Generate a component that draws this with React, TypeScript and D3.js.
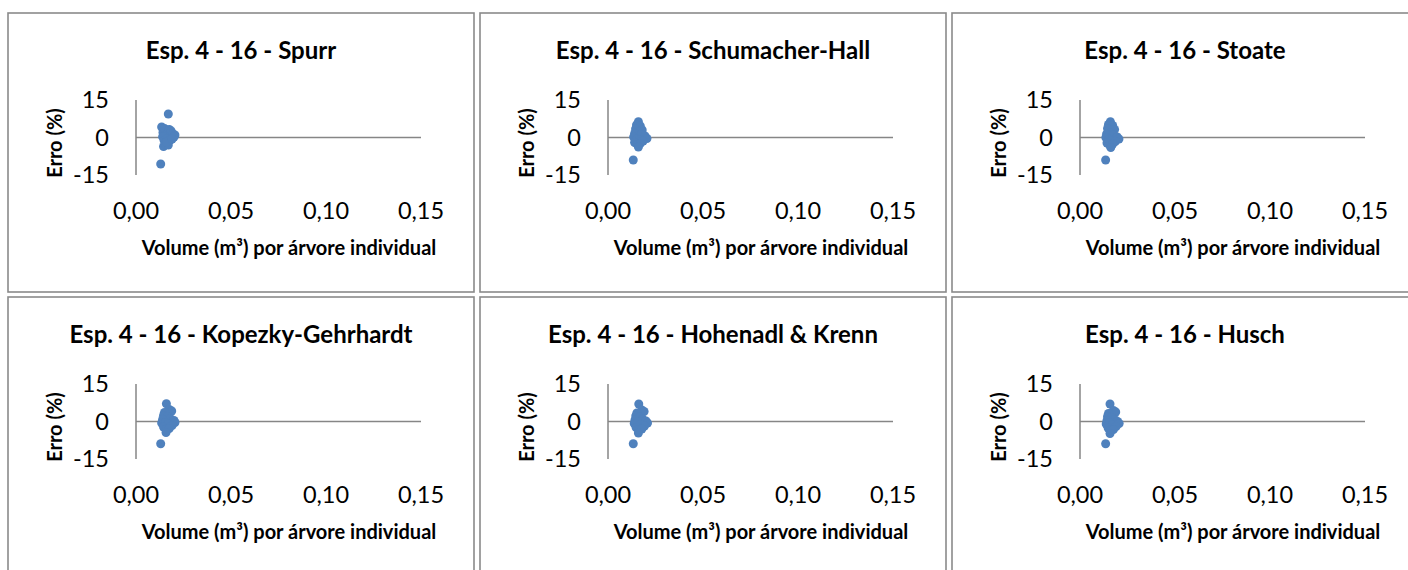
import React, { useEffect, useRef } from 'react';
import * as d3 from 'd3';

// chart titles, one per panel (row by row)
const titles = [
    'Esp. 4 - 16 - Spurr',
    'Esp. 4 - 16 - Schumacher-Hall',
    'Esp. 4 - 16 - Stoate',
    'Esp. 4 - 16 - Kopezky-Gehrhardt',
    'Esp. 4 - 16 - Hohenadl & Krenn',
    'Esp. 4 - 16 - Husch',
];

const xTicks = [0, 0.05, 0.1, 0.15];
const yTicks = [15, 0, -15];
const xLabel = 'Volume (m³) por árvore individual';
const yLabel = 'Erro (%)';

// [volume, erro] pairs
const spurr = [
    [0.0170, 9.4], [0.0130, -10.6], [0.0135, 4.2], [0.0142, 2.0], [0.0150, 3.6],
    [0.0160, 1.2], [0.0175, 3.2], [0.0185, 2.6], [0.0195, 1.4], [0.0205, 1.0],
    [0.0200, 0.2], [0.0140, 0.3], [0.0148, -1.2], [0.0165, -0.5], [0.0180, -1.0],
    [0.0145, -3.6], [0.0155, -2.6], [0.0170, -3.0], [0.0160, -1.8], [0.0190, -0.6],
];
const schumacherHall = [
    [0.0160, 6.3], [0.0150, 5.0], [0.0170, 4.6], [0.0145, 3.4], [0.0180, 3.0],
    [0.0160, 2.2], [0.0140, 1.6], [0.0175, 1.2], [0.0195, 0.6], [0.0205, -0.4],
    [0.0135, 0.2], [0.0150, -0.6], [0.0165, -1.0], [0.0185, -1.4], [0.0140, -2.0],
    [0.0155, -2.8], [0.0170, -2.4], [0.0160, -3.8], [0.0133, -9.0],
];
const stoate = [
    [0.0160, 6.3], [0.0150, 5.2], [0.0172, 4.8], [0.0145, 3.6], [0.0182, 3.2],
    [0.0158, 2.0], [0.0140, 1.4], [0.0176, 1.0], [0.0196, 0.2], [0.0205, -0.6],
    [0.0136, 0.0], [0.0152, -0.8], [0.0166, -1.2], [0.0186, -1.6], [0.0142, -2.2],
    [0.0156, -3.0], [0.0172, -2.6], [0.0162, -4.0], [0.0135, -9.0],
];
const kopezky = [
    [0.0160, 7.1], [0.0175, 4.8], [0.0188, 4.2], [0.0150, 3.6], [0.0145, 2.4],
    [0.0165, 2.0], [0.0180, 1.2], [0.0140, 0.8], [0.0200, 0.4], [0.0205, -0.4],
    [0.0135, -0.6], [0.0155, -0.4], [0.0170, -1.0], [0.0190, -1.6], [0.0145, -2.2],
    [0.0160, -3.0], [0.0175, -2.8], [0.0158, -4.4], [0.0130, -8.9],
];
const hohenadlKrenn = [
    [0.0162, 7.0], [0.0178, 4.6], [0.0190, 4.0], [0.0152, 3.4], [0.0146, 2.2],
    [0.0166, 1.8], [0.0182, 1.0], [0.0142, 0.6], [0.0200, 0.2], [0.0208, -0.6],
    [0.0138, -0.8], [0.0156, -0.2], [0.0172, -1.2], [0.0192, -1.8], [0.0148, -2.4],
    [0.0162, -3.2], [0.0178, -3.0], [0.0160, -4.6], [0.0133, -8.9],
];
const husch = [
    [0.0158, 7.0], [0.0176, 4.4], [0.0188, 3.8], [0.0150, 3.2], [0.0145, 2.0],
    [0.0165, 1.6], [0.0182, 0.8], [0.0142, 0.4], [0.0198, 0.0], [0.0206, -0.8],
    [0.0138, -1.0], [0.0155, -0.4], [0.0170, -1.4], [0.0190, -2.0], [0.0148, -2.6],
    [0.0162, -3.4], [0.0176, -3.2], [0.0158, -4.8], [0.0135, -8.9],
];

const series = [spurr, schumacherHall, stoate, kopezky, hohenadlKrenn, husch];

export default function App() {
    const svgRef = useRef<SVGSVGElement>(null);

    useEffect(() => {
        const svg = d3.select(svgRef.current);
        svg.selectAll('*').remove();

        const panelW = 466;
        const panelH = 279;
        const stepX = 472;
        const stepY = 284;
        const font = 'Lato, Carlito, Calibri, sans-serif';

        const xScale = d3.scaleLinear().domain([0, 0.15]).range([128, 413]);
        const yScale = d3.scaleLinear().domain([-15, 15]).range([162, 87]);
        const fmt = (d: number) => d.toFixed(2).replace('.', ',');

        series.forEach((data, i) => {
            const col = i % 3;
            const row = Math.floor(i / 3);
            const g = svg.append('g')
                .attr('transform', `translate(${8 + col * stepX},${13 + row * stepY})`);

            // panel frame
            g.append('rect')
                .attr('width', panelW)
                .attr('height', panelH)
                .attr('fill', 'white')
                .attr('stroke', '#8a8a8a')
                .attr('stroke-width', 1.6);

            g.append('text')
                .attr('x', panelW / 2)
                .attr('y', 46)
                .attr('text-anchor', 'middle')
                .attr('font-family', font)
                .attr('font-weight', 'bold')
                .attr('font-size', 24)
                .text(titles[i]);

            // axis lines (x axis crosses at 0)
            g.append('line')
                .attr('x1', xScale(0)).attr('x2', xScale(0))
                .attr('y1', yScale(15)).attr('y2', yScale(-15))
                .attr('stroke', '#868686').attr('stroke-width', 1.5);
            g.append('line')
                .attr('x1', xScale(0)).attr('x2', xScale(0.15))
                .attr('y1', yScale(0)).attr('y2', yScale(0))
                .attr('stroke', '#868686').attr('stroke-width', 1.5);

            g.selectAll('.ytick')
                .data(yTicks)
                .enter()
                .append('text')
                .attr('x', 101)
                .attr('y', d => yScale(d))
                .attr('dy', '0.36em')
                .attr('text-anchor', 'end')
                .attr('font-family', font)
                .attr('font-size', 23.5)
                .text(d => String(d));

            g.selectAll('.xtick')
                .data(xTicks)
                .enter()
                .append('text')
                .attr('x', d => xScale(d))
                .attr('y', 206)
                .attr('text-anchor', 'middle')
                .attr('font-family', font)
                .attr('font-size', 23.5)
                .text(d => fmt(d));

            g.append('text')
                .attr('x', 281)
                .attr('y', 242)
                .attr('text-anchor', 'middle')
                .attr('font-family', font)
                .attr('font-weight', 'bold')
                .attr('font-size', 20)
                .text(xLabel);

            g.append('text')
                .attr('transform', `translate(54,130) rotate(-90)`)
                .attr('text-anchor', 'middle')
                .attr('font-family', font)
                .attr('font-weight', 'bold')
                .attr('font-size', 20)
                .text(yLabel);

            g.selectAll('.pt')
                .data(data)
                .enter()
                .append('circle')
                .attr('cx', d => xScale(d[0]))
                .attr('cy', d => yScale(d[1]))
                .attr('r', 4.5)
                .attr('fill', '#4f81bd');
        });
    }, []);

    return (
        <svg
            ref={svgRef}
            width={1408}
            height={570}
            style={{ position: 'absolute', left: 0, top: 0, background: 'white' }}
        />
    );
}
